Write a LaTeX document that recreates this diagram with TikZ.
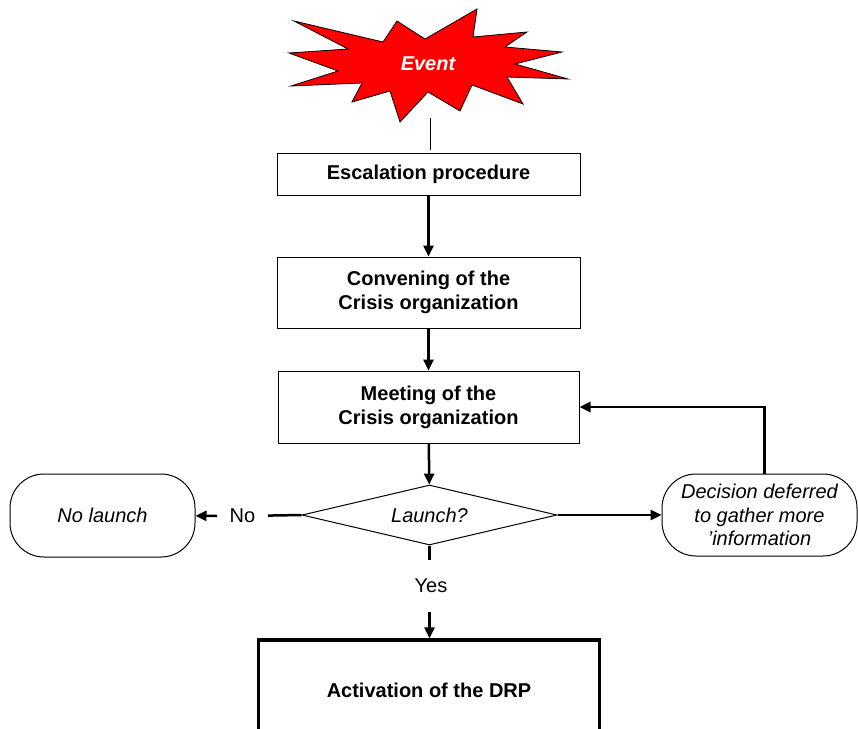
\documentclass[tikz,border=0pt]{standalone}
\usepackage{fontspec}
\setmainfont{Liberation Sans}
\usetikzlibrary{shapes.geometric,arrows.meta}
\begin{document}
\begin{tikzpicture}[x=1pt,y=-1pt,
  txt/.style={font=\fontsize{20}{24}\selectfont},
  box/.style={txt,draw,line width=1pt,align=center,font=\fontsize{20}{24}\selectfont\bfseries},
  endbox/.style={txt,draw,line width=1pt,rounded corners=34pt,align=center,font=\fontsize{20}{23.5}\selectfont\itshape},
  flow/.style={line width=2.5pt,-{Triangle[length=11pt,width=10pt]}}]
\useasboundingbox (0,0) rectangle (858,728);
\filldraw[fill=red,draw=black,line width=0.8pt]
  (294,21) -- (383,42) -- (397,21) -- (425,39) -- (477,9) -- (473,37)
  -- (527,32) -- (505,47) -- (562,52) -- (515,64) -- (568,79) -- (507,77)
  -- (523,104) -- (472,85) -- (460,111) -- (428,92) -- (400,122) -- (390,91)
  -- (352,102) -- (362,83) -- (291,86) -- (338,71) -- (289,53) -- (348,49) -- cycle;
\node[txt,text=white,font=\fontsize{20}{24}\selectfont\bfseries\itshape] (event) at (428,64) {Event};
\coordinate (evtail) at (430,118);
\node[box,minimum width=303pt,minimum height=42pt] (esc) at (428.5,174) {Escalation procedure};
\node[box,minimum width=303pt,minimum height=71pt] (conv) at (428.5,292.5) {Convening of the\\Crisis organization};
\node[box,minimum width=301pt,minimum height=72pt] (meet) at (428.5,407) {Meeting of the\\Crisis organization};
\node[txt,draw,line width=1pt,diamond,aspect=4.25,minimum width=255pt,minimum height=60pt,inner sep=1pt,font=\fontsize{20}{24}\selectfont\itshape] (launch) at (429.5,515) {Launch?};
\node[endbox,minimum width=185pt,minimum height=83pt] (nolaunch) at (102.5,515.5) {No launch};
\node[endbox,minimum width=195pt,minimum height=82pt] (defer) at (759.5,515) {Decision deferred\\to gather more\\'information};
\node[txt,inner xsep=12.5pt] (nolbl) at (242.5,516) {No};
\node[txt,inner ysep=19pt] (yeslbl) at (431,586) {Yes};
\node[box,line width=3.5pt,minimum width=341pt,minimum height=100pt] (act) at (429,690) {Activation of the DRP};
\draw[line width=1pt,shorten >=3pt] (evtail) -- (evtail |- esc.north);
\draw[flow] (esc) -- (conv);
\draw[flow] (conv) -- (meet);
\draw[flow] (meet) -- (launch);
\draw[line width=2.5pt] (launch.west) -- (nolbl);
\draw[flow] (nolbl) -- (nolaunch);
\draw[flow] (launch) -- (defer);
\draw[flow] ([xshift=5pt]defer.north) |- (meet.east);
\draw[line width=2.5pt] (launch.south) -- (yeslbl.north -| launch.south);
\draw[flow] (yeslbl.south -| launch.south) -- (act.north -| launch.south);
\end{tikzpicture}
\end{document}
